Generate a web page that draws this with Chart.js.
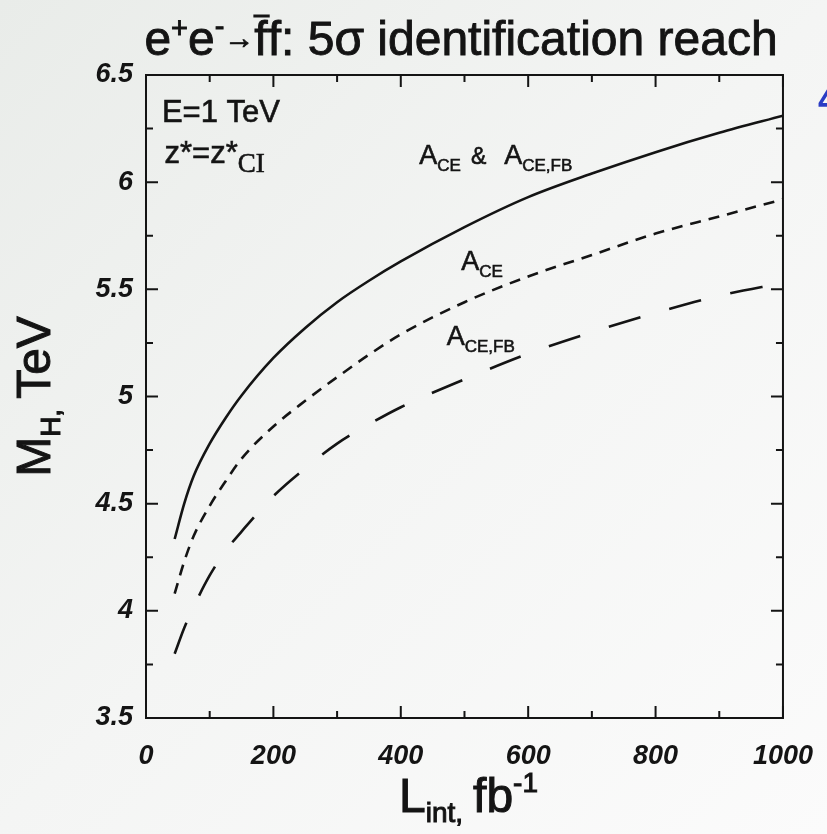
<!DOCTYPE html>
<html>
<head>
<meta charset="utf-8">
<script src="https://cdn.jsdelivr.net/npm/chart.js@4.4.0/dist/chart.umd.min.js"></script>
<style>
html, body { margin: 0; padding: 0; background: #f4f5f4; }
#wrap { width: 827px; height: 834px; }
</style>
</head>
<body>
<div id="wrap"><canvas id="grafica" width="827" height="834"></canvas></div>
<script>
// integrated luminosity, fb^-1
const lumi = [45, 60, 75, 100, 125, 150, 200, 250, 300, 350, 400, 500, 600, 700, 800, 900, 1000];
// 5 sigma identification reach M_H (TeV)
const reachBoth = [4.335, 4.50, 4.63, 4.78, 4.90, 5.005, 5.18, 5.32, 5.44, 5.54, 5.63, 5.79, 5.93, 6.04, 6.14, 6.23, 6.31];
const reachCE   = [4.08, 4.23, 4.35, 4.49, 4.605, 4.71, 4.86, 4.98, 5.09, 5.195, 5.29, 5.44, 5.56, 5.66, 5.76, 5.84, 5.92];
const reachCEFB = [3.80, 3.92, 4.02, 4.165, 4.28, 4.37, 4.535, 4.665, 4.78, 4.87, 4.95, 5.08, 5.20, 5.30, 5.39, 5.47, 5.53];

const xMin = 0, xMax = 1000, xStep = 100, xLabelEvery = 200;
const yMin = 3.5, yMax = 6.5, yStep = 0.25, yLabelEvery = 0.5;

const SANS = '"Liberation Sans", Arial, "DejaVu Sans", sans-serif';
const SERIF = '"Liberation Serif", "Times New Roman", serif';
const INK = '#141414';

function pts(ys) {
    return lumi.map((l, i) => ({ x: l, y: ys[i] }));
}

// draws a row of text pieces (sub/superscripts) starting at x or centred on x
function drawRich(ctx, x, y, parts, align, heavy) {
    let total = 0;
    parts.forEach(p => {
        ctx.font = p.font;
        p.w = ctx.measureText(p.t).width;
        total += p.w + (p.gap || 0);
    });
    let cx = align === 'center' ? x - total / 2 : x;
    ctx.textAlign = 'left';
    ctx.textBaseline = 'alphabetic';
    parts.forEach(p => {
        ctx.font = p.font;
        ctx.fillText(p.t, cx, y + (p.dy || 0));
        if (heavy) {
            ctx.lineWidth = heavy;
            ctx.strokeText(p.t, cx, y + (p.dy || 0));
        }
        if (p.bar) {
            ctx.save();
            ctx.lineWidth = 3;
            ctx.beginPath();
            ctx.moveTo(cx - 1, y - p.bar);
            ctx.lineTo(cx + p.w + 2, y - p.bar);
            ctx.stroke();
            ctx.restore();
        }
        cx += p.w + (p.gap || 0);
    });
}

const fondo = {
    id: 'fondo',
    beforeDraw(chart) {
        const c = chart.ctx;
        const g = c.createLinearGradient(0, 0, chart.width, chart.height);
        g.addColorStop(0, '#e9ece9');
        g.addColorStop(0.5, '#f4f5f4');
        g.addColorStop(1, '#fbfbfb');
        c.save();
        c.fillStyle = g;
        c.fillRect(0, 0, chart.width, chart.height);
        c.restore();
    }
};

const marco = {
    id: 'marco',
    afterDraw(chart) {
        const c = chart.ctx;
        const a = chart.chartArea;
        const sx = chart.scales.x, sy = chart.scales.y;
        c.save();
        c.strokeStyle = INK;
        c.fillStyle = INK;
        c.lineWidth = 2;
        c.strokeRect(a.left, a.top, a.right - a.left, a.bottom - a.top);

        // inward ticks on all four sides
        sx.ticks.forEach(t => {
            const px = sx.getPixelForValue(t.value);
            const len = t.value % xLabelEvery === 0 ? 12 : 7;
            c.beginPath();
            c.moveTo(px, a.bottom); c.lineTo(px, a.bottom - len);
            c.moveTo(px, a.top); c.lineTo(px, a.top + len);
            c.stroke();
        });
        sy.ticks.forEach(t => {
            const py = sy.getPixelForValue(t.value);
            const major = Math.abs(t.value / yLabelEvery - Math.round(t.value / yLabelEvery)) < 1e-6;
            const len = major ? 12 : 7;
            c.beginPath();
            c.moveTo(a.left, py); c.lineTo(a.left + len, py);
            c.moveTo(a.right, py); c.lineTo(a.right - len, py);
            c.stroke();
        });

        // title
        const big = '48px ' + SANS, sup = '29px ' + SANS;
        drawRich(c, 461, 55, [
            { t: 'e', font: big },
            { t: '+', font: sup, dy: -17 },
            { t: 'e', font: big },
            { t: '-', font: sup, dy: -19 },
            { t: '\u2192', font: '30px ' + SANS, dy: -7 },
            { t: 'f', font: big, bar: 39 },
            { t: 'f: 5\u03c3 identification reach', font: big }
        ], 'center', 0.9);

        // axis titles
        const ax = '48px ' + SANS, axs = '28px ' + SANS;
        drawRich(c, (a.left + a.right) / 2 + 4, 812, [
            { t: 'L', font: ax },
            { t: 'int,', font: axs, dy: 10, gap: 10 },
            { t: 'fb', font: ax },
            { t: '-1', font: axs, dy: -20 }
        ], 'center', 1);
        c.save();
        c.translate(50, (a.top + a.bottom) / 2);
        c.rotate(-Math.PI / 2);
        drawRich(c, 0, 0, [
            { t: 'M', font: ax },
            { t: 'H,', font: axs, dy: 10, gap: 10 },
            { t: 'TeV', font: ax }
        ], 'center', 1);
        c.restore();

        // in-plot labels
        const lab = '31px ' + SANS;
        drawRich(c, sx.getPixelForValue(25), sy.getPixelForValue(6.28), [
            { t: 'E=1 TeV', font: lab }
        ], 'left', 0.6);
        drawRich(c, sx.getPixelForValue(29), sy.getPixelForValue(6.09), [
            { t: 'z*=z*', font: lab },
            { t: 'CI', font: '27px ' + SERIF, dy: 9 }
        ], 'left', 0.6);
        const A = '27px ' + SANS, sub = '17px ' + SANS;
        drawRich(c, sx.getPixelForValue(429), sy.getPixelForValue(6.085), [
            { t: 'A', font: A },
            { t: 'CE', font: sub, dy: 7, gap: 10 },
            { t: '&', font: '23px ' + SANS, gap: 18 },
            { t: 'A', font: A },
            { t: 'CE,FB', font: sub, dy: 7 }
        ], 'left', 0.6);
        drawRich(c, sx.getPixelForValue(495), sy.getPixelForValue(5.59), [
            { t: 'A', font: A },
            { t: 'CE', font: sub, dy: 7 }
        ], 'left', 0.6);
        drawRich(c, sx.getPixelForValue(472), sy.getPixelForValue(5.24), [
            { t: 'A', font: A },
            { t: 'CE,FB', font: sub, dy: 7 }
        ], 'left', 0.6);

        // blue mark cut at the right edge of the slide
        c.fillStyle = '#2b3cc4';
        c.font = 'bold 36px ' + SANS;
        c.fillText('4', 818, 112);
        c.restore();
    }
};

const tickFont = { family: SANS, size: 27, weight: 'bold', style: 'italic' };

const grafica = new Chart(document.getElementById('grafica').getContext('2d'), {
    type: 'line',
    data: {
        datasets: [
            { label: 'A_CE & A_CE,FB', data: pts(reachBoth), borderColor: INK, borderWidth: 2.6, borderDash: [] },
            { label: 'A_CE', data: pts(reachCE), borderColor: INK, borderWidth: 2.6, borderDash: [11, 8] },
            { label: 'A_CE,FB', data: pts(reachCEFB), borderColor: INK, borderWidth: 2.6, borderDash: [33, 30] }
        ]
    },
    options: {
        responsive: false,
        animation: false,
        devicePixelRatio: 1,
        elements: {
            point: { radius: 0 },
            line: { cubicInterpolationMode: 'monotone', fill: false }
        },
        layout: { padding: { top: 75, right: 43, left: 0, bottom: 0 } },
        plugins: {
            legend: { display: false },
            tooltip: { enabled: false },
            title: { display: false }
        },
        scales: {
            x: {
                type: 'linear',
                min: xMin, max: xMax,
                grid: { display: false },
                border: { display: false },
                ticks: {
                    stepSize: xStep,
                    autoSkip: false,
                    maxRotation: 0,
                    padding: 14,
                    color: INK,
                    font: tickFont,
                    callback: v => (v % xLabelEvery === 0 ? String(v) : '')
                },
                afterFit: s => { s.height = 116; }
            },
            y: {
                min: yMin, max: yMax,
                grid: { display: false },
                border: { display: false },
                ticks: {
                    stepSize: yStep,
                    autoSkip: false,
                    padding: 5,
                    color: INK,
                    font: tickFont,
                    callback: v => (Math.abs(v / yLabelEvery - Math.round(v / yLabelEvery)) < 1e-6 ? String(v) : '')
                },
                afterFit: s => { s.width = 146; }
            }
        }
    },
    plugins: [fondo, marco]
});
</script>
</body>
</html>
